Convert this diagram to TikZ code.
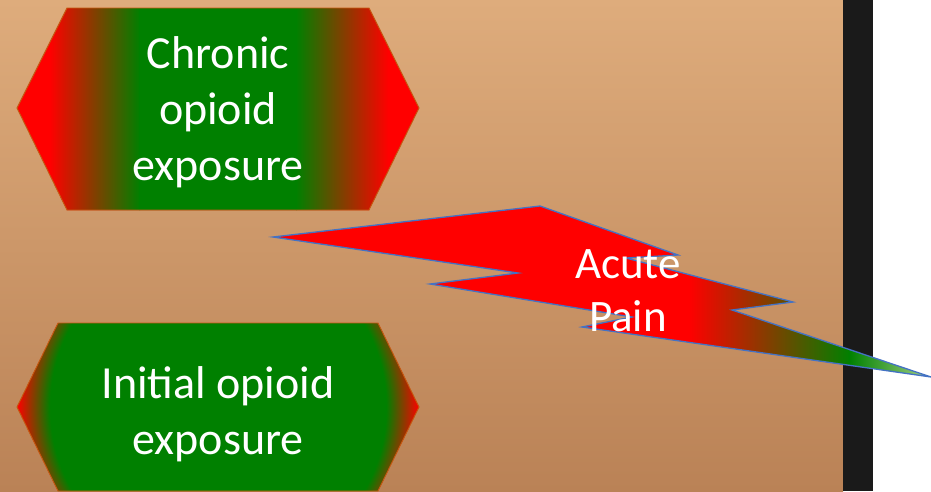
\documentclass[tikz,border=0pt]{standalone}
\usepackage{fontspec}
\setmainfont{Carlito}
\usetikzlibrary{positioning}
\definecolor{hexgreen}{RGB}{0,128,0}
\definecolor{hexred}{RGB}{255,0,0}
\definecolor{hexedge}{RGB}{197,90,17}
\definecolor{boltedge}{RGB}{68,114,196}
\definecolor{paleleaf}{RGB}{165,210,135}
\definecolor{woodlight}{RGB}{222,172,124}
\definecolor{wooddark}{RGB}{186,130,86}
\definecolor{frameblack}{RGB}{26,26,26}
\pgfdeclareradialshading{initialglow}{\pgfpointorigin}{color(0bp)=(hexgreen); color(20.5bp)=(hexgreen); color(24.5bp)=(hexred); color(50bp)=(hexred)}

\begin{document}
\begin{tikzpicture}[
        x=1pt, y=-1pt,
        labelNode/.style={text=white, align=center, inner sep=0pt, font=\fontsize{46}{56}\selectfont},
        hexEdge/.style={draw=hexedge, line width=0.9pt},
        boltEdge/.style={draw=boltedge, line width=1.3pt, line join=miter}
    ]
        \useasboundingbox (0,0) rectangle (931,491);

        % Background
        \fill[white] (0,0) rectangle (931,491);
        \shade[top color=woodlight, bottom color=wooddark] (0,0) rectangle (843,491);
        \fill[frameblack] (843,0) rectangle (873,491);

        % Chronic hexagon
        \begin{scope}
            \clip (17,108) -- (67,8) -- (369,8) -- (419,108) -- (369,210) -- (67,210) -- cycle;
            \fill[hexred] (0,0) rectangle (440,220);
            \shade[left color=hexred, right color=hexgreen] (50,0) rectangle (140,220);
            \fill[hexgreen] (139,0) rectangle (297,220);
            \shade[left color=hexgreen, right color=hexred] (296,0) rectangle (388,220);
        \end{scope}
        \draw[hexEdge] (17,108) -- (67,8) -- (369,8) -- (419,108) -- (369,210) -- (67,210) -- cycle;

        % Initial hexagon
        \begin{scope}
            \clip (17,407) -- (58,323) -- (378,323) -- (419,407) -- (378,491) -- (58,491) -- cycle;
            \fill[hexred] (0,310) rectangle (440,491);
            \shade[shading=initialglow] (218,407) circle (205);
        \end{scope}
        \draw[hexEdge] (17,407) -- (58,323) -- (378,323) -- (419,407) -- (378,491) -- (58,491) -- cycle;

        % Lightning bolt
        \begin{scope}
            \clip (273,237) -- (540,206) -- (678,255) -- (626,258) -- (793,302) -- (732,310)
                -- (931,377) -- (582,327) -- (632,317) -- (430,284) -- (518,273) -- cycle;
            \fill[hexred] (270,200) rectangle (690,380);
            \shade[left color=hexred, right color=hexgreen] (689,200) rectangle (850,380);
            \shade[left color=hexgreen, right color=paleleaf] (849,200) rectangle (931,380);
        \end{scope}
        \draw[boltEdge] (273,237) -- (540,206) -- (678,255) -- (626,258) -- (793,302) -- (732,310)
            -- (931,377) -- (582,327) -- (632,317) -- (430,284) -- (518,273) -- cycle;

        % Labels
        \node[labelNode] (chronic) at (218,112) {Chronic\\opioid\\exposure};
        \node[labelNode] (initial) at (218,414) {Initial opioid\\exposure};
        \node[labelNode, font=\fontsize{45}{53}\selectfont] (acute) at (628,291) {Acute\\Pain};
    \end{tikzpicture}
\end{document}
